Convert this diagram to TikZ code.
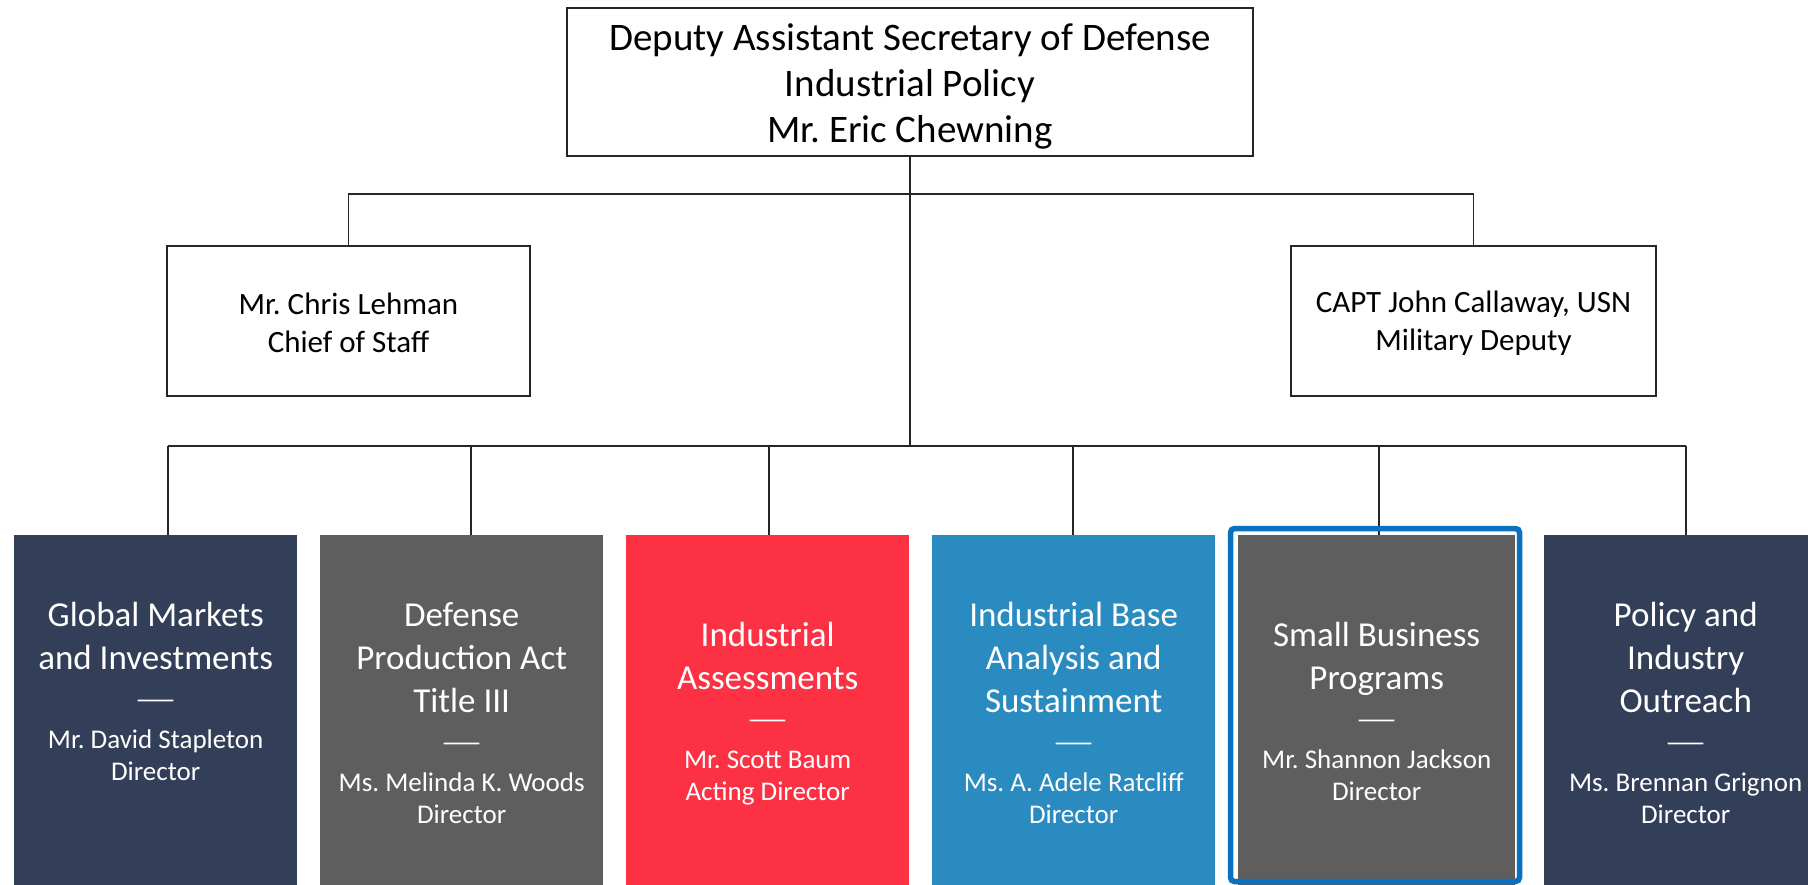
\documentclass[tikz,border=0pt]{standalone}
\usepackage{fontspec}
\usepackage{graphicx}
\setmainfont{Carlito}
\usetikzlibrary{calc}
\definecolor{navy}{HTML}{333F58}
\definecolor{grayb}{HTML}{5E5E5E}
\definecolor{redb}{HTML}{FC3144}
\definecolor{blueb}{HTML}{2A8BC1}
\definecolor{outl}{HTML}{0A70C0}
\definecolor{edge}{HTML}{262626}
\frenchspacing
\newcommand{\fsz}[2]{\fontsize{#1}{#2}\selectfont\spaceskip=\fontdimen2\font\relax\xspaceskip=\fontdimen2\font\relax}
\newcommand{\btext}[3]{\frenchspacing
  \fsz{35}{43}\strut #1\par
  \fsz{27}{39}\scalebox{1.8}[1]{—}\par
  \vspace{8pt}\fsz{27}{32}#2\\#3\par}
\begin{document}
\begin{tikzpicture}[x=1pt,y=-1pt,
  upbox/.style={draw=edge, line width=1.5pt, rectangle, inner sep=0pt},
  uptxt/.style={inner sep=0pt, align=center, text=black},
  bbox/.style={rectangle, inner sep=0pt, anchor=north west, minimum width=283pt, minimum height=360pt},
  btxt/.style={anchor=north, inner sep=0pt, text width=300pt, align=center, text=white},
  conn/.style={draw=edge, line width=1.5pt}]
\clip (0,0) rectangle (1808,884);
\fill[white] (0,0) rectangle (1808,884);

% top
\node[upbox, minimum width=686pt, minimum height=148pt] (dasd) at (910,82) {};
\node[uptxt, font=\fontsize{39}{46}\selectfont] (dasdt) at (910,86)
  {Deputy Assistant Secretary of Defense\\Industrial Policy\\Mr. Eric Chewning};
\node[upbox, minimum width=363pt, minimum height=150pt] (cos) at (348.5,321) {};
\node[uptxt, font=\fontsize{31}{38}\selectfont] (cost) at (348.5,323) {Mr. Chris Lehman\\Chief of Staff};
\node[upbox, minimum width=365pt, minimum height=150pt] (md) at (1473.5,321) {};
\node[uptxt, font=\fontsize{31}{38}\selectfont] (mdt) at (1473.5,323) {CAPT John Callaway, USN\\Military Deputy};

% bottom boxes
\node[bbox, fill=navy] (b1) at (14,535) {};
\node[bbox, fill=grayb] (b2) at (320,535) {};
\node[bbox, fill=redb] (b3) at (626,535) {};
\node[bbox, fill=blueb] (b4) at (932,535) {};
\node[bbox, fill=grayb, minimum width=277pt] (b5) at (1238,535) {};
\node[bbox, fill=navy] (b6) at (1544,535) {};

\coordinate (j1) at (dasd.south |- 0,194);
\coordinate (j2) at (dasd.south |- 0,446);
\coordinate (c1) at ($(b1.north west)+(154,0)$);
\coordinate (c2) at ($(b2.north west)+(151,0)$);
\coordinate (c3) at ($(b3.north west)+(143,0)$);
\coordinate (c4) at ($(b4.north west)+(141,0)$);
\coordinate (c5) at ($(b5.north west)+(141,0)$);
\coordinate (c6) at ($(b6.north west)+(142,0)$);

% connectors
\draw[conn] (dasd.south) -- (j2);
\draw[conn] (cos.north) |- (j1) -| (md.north);
\draw[conn] (c1 |- j2) -- (c6 |- j2);
\foreach \c in {c1,c2,c3,c4,c5,c6} \draw[conn] (\c |- j2) -- (\c);

% highlight outline
\draw[outl, line width=5.5pt, rounded corners=4pt] (1230.5,528.5) rectangle (1519.5,881.5);

% texts
\node[btxt] (t1) at ($(b1.north)+(0,61)$) {\btext{Global Markets\\and Investments}{Mr. David Stapleton}{Director}};
\node[btxt] (t2) at ($(b2.north)+(0,61)$) {\btext{Defense\\Production Act\\Title III}{Ms. Melinda K. Woods}{Director}};
\node[btxt] (t3) at ($(b3.north)+(0,81)$) {\btext{Industrial\\Assessments}{Mr. Scott Baum}{Acting Director}};
\node[btxt] (t4) at ($(b4.north)+(0,61)$) {\btext{Industrial Base\\Analysis and\\Sustainment}{Ms. A. Adele Ratcliff}{Director}};
\node[btxt] (t5) at ($(b5.north)+(0,81)$) {\btext{Small Business\\Programs}{Mr. Shannon Jackson}{Director}};
\node[btxt] (t6) at ($(b6.north)+(0,61)$) {\btext{Policy and\\Industry\\Outreach}{Ms. Brennan Grignon}{Director}};
\end{tikzpicture}
\end{document}
